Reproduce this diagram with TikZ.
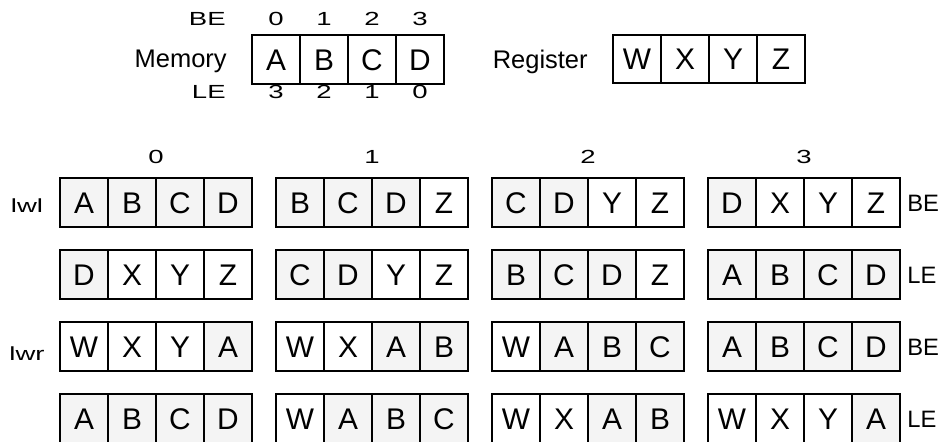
\documentclass[tikz,border=0pt]{standalone}
\usepackage{fontspec}
\setmainfont{Liberation Sans}
\newfontfamily\widefont[FakeStretch=1.45]{Liberation Sans}
\definecolor{memgray}{HTML}{F4F4F4}

\begin{document}
\begin{tikzpicture}[x=0.02cm,y=-0.02cm,
  cell/.style={draw,line width=1pt,minimum width=0.96cm,minimum height=0.97cm,
    inner sep=0pt,outer sep=0pt,text height=12.2pt,text depth=0pt,
    font=\fontsize{17}{20}\selectfont},
  reg/.style={cell,fill=white},
  mem/.style={cell,fill=memgray},
  big/.style={inner sep=0pt,font=\fontsize{14.5}{17}\selectfont},
  side/.style={inner sep=0pt,anchor=base west,font=\fontsize{13.5}{16}\selectfont},
  small/.style={inner sep=0pt,font=\widefont\fontsize{10.8}{13}\selectfont}]
\useasboundingbox (0,0) rectangle (952,441);
% memory and register
\node[small,anchor=base east] (bet) at (226,25.5) {BE};
\node[big,anchor=base east] (memlab) at (227,67) {Memory};
\node[small,anchor=base east] (let) at (226,98.5) {LE};
\node[reg] (ma) at (276,59.5) {A};
\node[reg] (mb) at (324,59.5) {B};
\node[reg] (mc) at (372,59.5) {C};
\node[reg] (md) at (420,59.5) {D};
\node[small,anchor=base] (be0) at (276,25.5) {0};
\node[small,anchor=base] (be1) at (324,25.5) {1};
\node[small,anchor=base] (be2) at (372,25.5) {2};
\node[small,anchor=base] (be3) at (420,25.5) {3};
\node[small,anchor=base] (le3) at (276,98.5) {3};
\node[small,anchor=base] (le2) at (324,98.5) {2};
\node[small,anchor=base] (le1) at (372,98.5) {1};
\node[small,anchor=base] (le0) at (420,98.5) {0};
\node[big,anchor=base east] (reglab) at (588,68) {Register};
\node[reg] (rw) at (637,59) {W};
\node[reg] (rx) at (685,59) {X};
\node[reg] (ry) at (733,59) {Y};
\node[reg] (rz) at (781,59) {Z};
% offsets
\node[small,anchor=base] (off0) at (156,163) {0};
\node[small,anchor=base] (off1) at (372,163) {1};
\node[small,anchor=base] (off2) at (588,163) {2};
\node[small,anchor=base] (off3) at (804,163) {3};
\node[small,anchor=base] (lwl) at (27,212) {lwl};
\node[small,anchor=base] (lwr) at (27,360) {lwr};
% lwl, big endian
\node[mem] (r1b0c0) at (84,202.5) {A};
\node[mem] (r1b0c1) at (132,202.5) {B};
\node[mem] (r1b0c2) at (180,202.5) {C};
\node[mem] (r1b0c3) at (228,202.5) {D};
\node[mem] (r1b1c0) at (300,202.5) {B};
\node[mem] (r1b1c1) at (348,202.5) {C};
\node[mem] (r1b1c2) at (396,202.5) {D};
\node[reg] (r1b1c3) at (444,202.5) {Z};
\node[mem] (r1b2c0) at (516,202.5) {C};
\node[mem] (r1b2c1) at (564,202.5) {D};
\node[reg] (r1b2c2) at (612,202.5) {Y};
\node[reg] (r1b2c3) at (660,202.5) {Z};
\node[mem] (r1b3c0) at (732,202.5) {D};
\node[reg] (r1b3c1) at (780,202.5) {X};
\node[reg] (r1b3c2) at (828,202.5) {Y};
\node[reg] (r1b3c3) at (876,202.5) {Z};
\node[side] (r1end) at (907,211.5) {BE};
% lwl, little endian
\node[mem] (r2b0c0) at (84,274.5) {D};
\node[reg] (r2b0c1) at (132,274.5) {X};
\node[reg] (r2b0c2) at (180,274.5) {Y};
\node[reg] (r2b0c3) at (228,274.5) {Z};
\node[mem] (r2b1c0) at (300,274.5) {C};
\node[mem] (r2b1c1) at (348,274.5) {D};
\node[reg] (r2b1c2) at (396,274.5) {Y};
\node[reg] (r2b1c3) at (444,274.5) {Z};
\node[mem] (r2b2c0) at (516,274.5) {B};
\node[mem] (r2b2c1) at (564,274.5) {C};
\node[mem] (r2b2c2) at (612,274.5) {D};
\node[reg] (r2b2c3) at (660,274.5) {Z};
\node[mem] (r2b3c0) at (732,274.5) {A};
\node[mem] (r2b3c1) at (780,274.5) {B};
\node[mem] (r2b3c2) at (828,274.5) {C};
\node[mem] (r2b3c3) at (876,274.5) {D};
\node[side] (r2end) at (907,283.5) {LE};
% lwr, big endian
\node[reg] (r3b0c0) at (84,346.5) {W};
\node[reg] (r3b0c1) at (132,346.5) {X};
\node[reg] (r3b0c2) at (180,346.5) {Y};
\node[mem] (r3b0c3) at (228,346.5) {A};
\node[reg] (r3b1c0) at (300,346.5) {W};
\node[reg] (r3b1c1) at (348,346.5) {X};
\node[mem] (r3b1c2) at (396,346.5) {A};
\node[mem] (r3b1c3) at (444,346.5) {B};
\node[reg] (r3b2c0) at (516,346.5) {W};
\node[mem] (r3b2c1) at (564,346.5) {A};
\node[mem] (r3b2c2) at (612,346.5) {B};
\node[mem] (r3b2c3) at (660,346.5) {C};
\node[mem] (r3b3c0) at (732,346.5) {A};
\node[mem] (r3b3c1) at (780,346.5) {B};
\node[mem] (r3b3c2) at (828,346.5) {C};
\node[mem] (r3b3c3) at (876,346.5) {D};
\node[side] (r3end) at (907,355.5) {BE};
% lwr, little endian
\node[mem] (r4b0c0) at (84,418.5) {A};
\node[mem] (r4b0c1) at (132,418.5) {B};
\node[mem] (r4b0c2) at (180,418.5) {C};
\node[mem] (r4b0c3) at (228,418.5) {D};
\node[reg] (r4b1c0) at (300,418.5) {W};
\node[mem] (r4b1c1) at (348,418.5) {A};
\node[mem] (r4b1c2) at (396,418.5) {B};
\node[mem] (r4b1c3) at (444,418.5) {C};
\node[reg] (r4b2c0) at (516,418.5) {W};
\node[reg] (r4b2c1) at (564,418.5) {X};
\node[mem] (r4b2c2) at (612,418.5) {A};
\node[mem] (r4b2c3) at (660,418.5) {B};
\node[reg] (r4b3c0) at (732,418.5) {W};
\node[reg] (r4b3c1) at (780,418.5) {X};
\node[reg] (r4b3c2) at (828,418.5) {Y};
\node[mem] (r4b3c3) at (876,418.5) {A};
\node[side] (r4end) at (907,427.5) {LE};
\end{tikzpicture}
\end{document}
